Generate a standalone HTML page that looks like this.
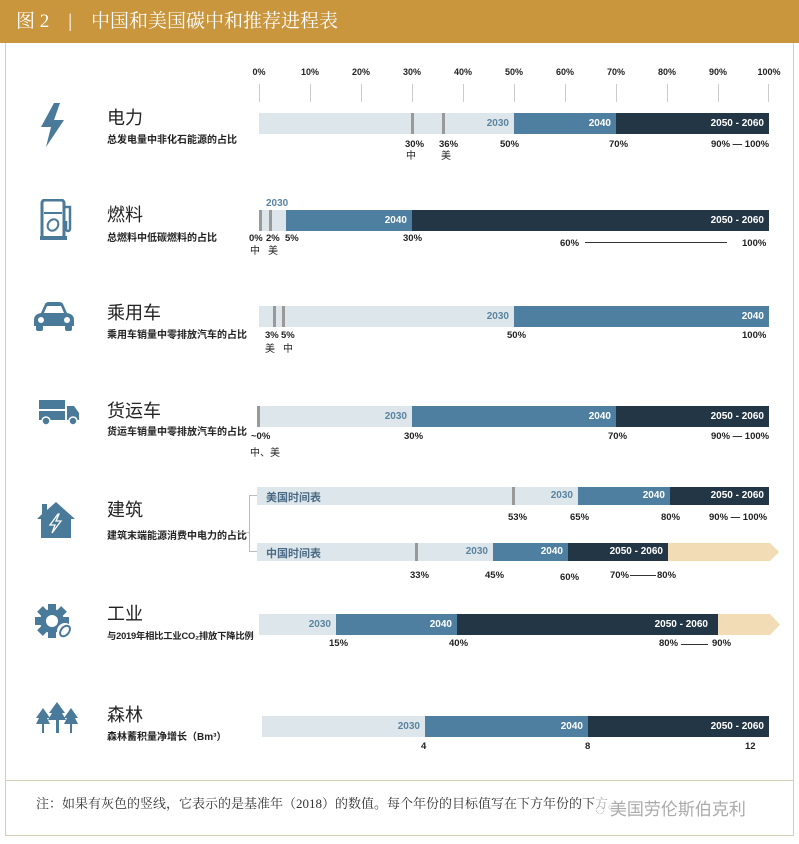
<!DOCTYPE html>
<html><head><meta charset="utf-8"><style>
body{margin:0;width:799px;height:844px;background:#fff;position:relative;overflow:hidden;font-family:"Liberation Sans","Noto Sans CJK SC",sans-serif;}
div{position:absolute;box-sizing:border-box;}
.hdr{left:0;top:0;width:799px;height:43px;background:#c9963e;color:#fff;font-size:19px;line-height:43px;padding-left:16px;font-family:"Liberation Serif","Noto Serif CJK SC",serif;}
.frame{left:5px;top:43px;width:789px;height:793px;border:1px solid #d6cdb4;border-top:none;}
.fline{left:5px;top:780px;width:789px;height:1px;background:#d6cdb4;}
.ax{top:67px;font-size:9px;font-weight:bold;color:#222;width:40px;margin-left:-20px;text-align:center;}
.tk{top:84px;width:1px;height:18px;background:#ccc;}
.t{left:107px;font-size:18px;color:#222;}
.s{left:107px;font-size:10px;font-weight:bold;color:#222;}
.b{height:21px;}
.l{background:#dde6ea;}.m{background:#4f7fa0;}.d{background:#233645;}.tan{background:#f2dcb6;}
.g{width:3px;background:#999;}
.bl{font-size:10px;font-weight:bold;color:#fff;line-height:21px;text-align:right;padding-right:5px;}
.bl.lt{color:#5a84a0;}
.p{font-size:9.5px;font-weight:bold;color:#222;white-space:nowrap;}
.c{font-size:10px;color:#222;}
.dash{height:1px;background:#333;}
</style></head><body>
<div class="hdr">图 2&nbsp;&nbsp;&nbsp;&nbsp;|&nbsp;&nbsp;&nbsp;&nbsp;中国和美国碳中和推荐进程表</div>
<div class="frame"></div>
<div class="fline"></div>

<div class="ax" style="left:259px">0%</div><div class="ax" style="left:310px">10%</div><div class="ax" style="left:361px">20%</div><div class="ax" style="left:412px">30%</div><div class="ax" style="left:463px">40%</div><div class="ax" style="left:514px">50%</div><div class="ax" style="left:565px">60%</div><div class="ax" style="left:616px">70%</div><div class="ax" style="left:667px">80%</div><div class="ax" style="left:718px">90%</div><div class="ax" style="left:769px">100%</div>
<div class="tk" style="left:259px"></div><div class="tk" style="left:310px"></div><div class="tk" style="left:361px"></div><div class="tk" style="left:412px"></div><div class="tk" style="left:463px"></div><div class="tk" style="left:514px"></div><div class="tk" style="left:565px"></div><div class="tk" style="left:616px"></div><div class="tk" style="left:667px"></div><div class="tk" style="left:718px"></div><div class="tk" style="left:768px"></div>

<svg style="position:absolute;left:38px;top:103px" width="30" height="44" viewBox="0 0 30 44"><polygon points="16,0 3,24 13,24 8,44 26,17 16,17 22,0" fill="#4a7a99"/></svg>
<svg style="position:absolute;left:40px;top:199px" width="34" height="42" viewBox="0 0 34 42"><rect x="2" y="1" width="22" height="38" rx="3" fill="none" stroke="#4a7a99" stroke-width="3"/><rect x="0" y="37" width="27" height="4" fill="#4a7a99"/><line x1="4" y1="14" x2="22" y2="14" stroke="#4a7a99" stroke-width="2"/><path d="M24 8 h6 v22 a2 2 0 0 1 -4 0 v-8" fill="none" stroke="#4a7a99" stroke-width="2.5"/><ellipse cx="13" cy="26" rx="5" ry="6" fill="none" stroke="#4a7a99" stroke-width="2" transform="rotate(35 13 26)"/></svg>
<svg style="position:absolute;left:33px;top:301px" width="42" height="30" viewBox="0 0 42 30"><path d="M8 12 L12 3 Q13 1 16 1 H26 Q29 1 30 3 L34 12 Q41 13 41 19 V25 H1 V19 Q1 13 8 12Z" fill="#4a7a99"/><path d="M11 12 L14 5 H28 L31 12Z" fill="#fff"/><circle cx="8" cy="19" r="3" fill="#fff"/><circle cx="34" cy="19" r="3" fill="#fff"/><rect x="3" y="24" width="7" height="6" rx="2" fill="#4a7a99"/><rect x="32" y="24" width="7" height="6" rx="2" fill="#4a7a99"/></svg>
<svg style="position:absolute;left:39px;top:400px" width="42" height="26" viewBox="0 0 42 26"><rect x="0" y="0" width="26" height="9" fill="#4a7a99"/><rect x="0" y="11" width="26" height="9" fill="#4a7a99"/><path d="M28 6 H35 L40 13 V20 H28Z" fill="#4a7a99"/><circle cx="7" cy="21" r="4" fill="#4a7a99" stroke="#fff" stroke-width="1.5"/><circle cx="34" cy="21" r="4" fill="#4a7a99" stroke="#fff" stroke-width="1.5"/></svg>
<svg style="position:absolute;left:37px;top:502px" width="38" height="36" viewBox="0 0 38 36"><path d="M19 0 L38 17 H34 V36 H4 V17 H0 L5 12 V2 H10 V8Z" fill="#4a7a99"/><polygon points="21,12 13,23 18,23 15,31 24,19 19,19 22,12" fill="none" stroke="#fff" stroke-width="1.3"/></svg>
<svg style="position:absolute;left:35px;top:604px" width="40" height="36" viewBox="0 0 40 36"><g fill="#4a7a99"><circle cx="17" cy="17" r="12"/><rect x="13" y="0" width="8" height="34"/><rect x="0" y="13" width="34" height="8"/><rect x="13" y="0" width="8" height="34" transform="rotate(45 17 17)"/><rect x="13" y="0" width="8" height="34" transform="rotate(-45 17 17)"/></g><circle cx="17" cy="17" r="6" fill="#fff"/><circle cx="30" cy="27" r="8" fill="#fff"/><ellipse cx="30" cy="27" rx="4" ry="6" fill="none" stroke="#4a7a99" stroke-width="2" transform="rotate(40 30 27)"/></svg>
<svg style="position:absolute;left:36px;top:702px" width="42" height="32" viewBox="0 0 42 32"><g fill="#4a7a99"><polygon points="7,6 0,16 3,16 0,22 14,22 11,16 14,16"/><rect x="6" y="21" width="2" height="10"/><polygon points="21,0 13,11 16,11 12,18 30,18 26,11 29,11"/><rect x="20" y="17" width="3" height="14"/><polygon points="35,6 28,16 31,16 28,22 42,22 39,16 42,16"/><rect x="34" y="21" width="2" height="10"/></g></svg>

<div class="t" style="top:104px">电力</div><div class="s" style="top:131px">总发电量中非化石能源的占比</div>
<div class="t" style="top:201px">燃料</div><div class="s" style="top:229px">总燃料中低碳燃料的占比</div>
<div class="t" style="top:299px">乘用车</div><div class="s" style="top:326px">乘用车销量中零排放汽车的占比</div>
<div class="t" style="top:397px">货运车</div><div class="s" style="top:423px">货运车销量中零排放汽车的占比</div>
<div class="t" style="top:496px">建筑</div><div class="s" style="top:527px">建筑末端能源消费中电力的占比</div>
<div class="t" style="top:600px">工业</div><div class="s" style="top:628px;font-size:9.3px;letter-spacing:-0.2px">与2019年相比工业CO₂排放下降比例</div>
<div class="t" style="top:701px">森林</div><div class="s" style="top:728px">森林蓄积量净增长（Bm³）</div>

<div class="b l" style="left:259px;top:113px;width:255px"></div>
<div class="b m" style="left:514px;top:113px;width:102px"></div>
<div class="b d" style="left:616px;top:113px;width:153px"></div>
<div class="g" style="left:411px;top:113px;height:21px"></div><div class="g" style="left:442px;top:113px;height:21px"></div>
<div class="bl lt" style="left:459px;top:113px;width:55px">2030</div>
<div class="bl" style="left:561px;top:113px;width:55px">2040</div>
<div class="bl" style="left:680px;top:113px;width:89px">2050 - 2060</div>
<div class="p" style="left:405px;top:139px">30%</div><div class="p" style="left:439px;top:139px">36%</div>
<div class="c" style="left:406px;top:147px">中</div><div class="c" style="left:441px;top:147px">美</div>
<div class="p" style="left:500px;top:139px">50%</div><div class="p" style="left:609px;top:139px">70%</div>
<div class="p" style="left:711px;top:139px">90% — 100%</div>

<div class="b l" style="left:259px;top:210px;width:27px"></div>
<div class="b m" style="left:286px;top:210px;width:126px"></div>
<div class="b d" style="left:412px;top:210px;width:357px"></div>
<div class="g" style="left:259px;top:210px;height:21px"></div><div class="g" style="left:269px;top:210px;height:21px"></div>
<div class="p" style="left:266px;top:198px;color:#5a84a0;font-size:10px">2030</div>
<div class="bl" style="left:357px;top:210px;width:55px">2040</div>
<div class="bl" style="left:680px;top:210px;width:89px">2050 - 2060</div>
<div class="p" style="left:249px;top:233px">0%</div><div class="p" style="left:266px;top:233px">2%</div><div class="p" style="left:285px;top:233px">5%</div><div class="p" style="left:403px;top:233px">30%</div>
<div class="c" style="left:250px;top:242px">中</div><div class="c" style="left:268px;top:242px">美</div>
<div class="p" style="left:560px;top:238px">60%</div><div class="dash" style="left:585px;top:242px;width:142px"></div><div class="p" style="left:742px;top:238px">100%</div>

<div class="b l" style="left:259px;top:306px;width:255px"></div>
<div class="b m" style="left:514px;top:306px;width:255px"></div>
<div class="g" style="left:273px;top:306px;height:21px"></div><div class="g" style="left:282px;top:306px;height:21px"></div>
<div class="bl lt" style="left:459px;top:306px;width:55px">2030</div>
<div class="bl" style="left:714px;top:306px;width:55px">2040</div>
<div class="p" style="left:265px;top:330px">3%</div><div class="p" style="left:281px;top:330px">5%</div>
<div class="c" style="left:265px;top:340px">美</div><div class="c" style="left:283px;top:340px">中</div>
<div class="p" style="left:507px;top:330px">50%</div><div class="p" style="left:742px;top:330px">100%</div>

<div class="b l" style="left:259px;top:406px;width:153px"></div>
<div class="b m" style="left:412px;top:406px;width:204px"></div>
<div class="b d" style="left:616px;top:406px;width:153px"></div>
<div class="g" style="left:257px;top:406px;height:21px"></div>
<div class="bl lt" style="left:357px;top:406px;width:55px">2030</div>
<div class="bl" style="left:561px;top:406px;width:55px">2040</div>
<div class="bl" style="left:680px;top:406px;width:89px">2050 - 2060</div>
<div class="p" style="left:251px;top:431px">~0%</div><div class="p" style="left:404px;top:431px">30%</div><div class="p" style="left:608px;top:431px">70%</div><div class="p" style="left:711px;top:431px">90% — 100%</div>
<div class="c" style="left:250px;top:444px">中、美</div>

<div style="left:233px;top:532px;width:16px;height:1px;background:#bbb"></div>
<div style="left:249px;top:495px;width:1px;height:57px;background:#bbb"></div>
<div style="left:249px;top:495px;width:8px;height:1px;background:#bbb"></div>
<div style="left:249px;top:551px;width:8px;height:1px;background:#bbb"></div>
<div class="l" style="left:257px;top:487px;width:321px;height:18px"></div>
<div class="m" style="left:578px;top:487px;width:92px;height:18px"></div>
<div class="d" style="left:670px;top:487px;width:99px;height:18px"></div>
<div class="g" style="left:512px;top:487px;height:18px"></div>
<div class="p" style="left:266px;top:489px;font-size:11px;color:#4a6a85">美国时间表</div>
<div class="bl lt" style="left:520px;top:485px;width:58px">2030</div>
<div class="bl" style="left:610px;top:485px;width:60px">2040</div>
<div class="bl" style="left:680px;top:485px;width:89px">2050 - 2060</div>
<div class="p" style="left:508px;top:512px">53%</div><div class="p" style="left:570px;top:512px">65%</div><div class="p" style="left:661px;top:512px">80%</div><div class="p" style="left:709px;top:512px">90% — 100%</div>

<div class="l" style="left:257px;top:543px;width:236px;height:18px"></div>
<div class="m" style="left:493px;top:543px;width:75px;height:18px"></div>
<div class="d" style="left:568px;top:543px;width:100px;height:18px"></div>
<svg style="position:absolute;left:668px;top:543px" width="112" height="18"><polygon points="0,0 102,0 111,9 102,18 0,18" fill="#f2dcb6"/></svg>
<div class="g" style="left:415px;top:543px;height:18px"></div>
<div class="p" style="left:266px;top:545px;font-size:11px;color:#4a6a85">中国时间表</div>
<div class="bl lt" style="left:440px;top:541px;width:53px">2030</div>
<div class="bl" style="left:510px;top:541px;width:58px">2040</div>
<div class="bl" style="left:575px;top:541px;width:93px">2050 - 2060</div>
<div class="p" style="left:410px;top:570px">33%</div><div class="p" style="left:485px;top:570px">45%</div><div class="p" style="left:560px;top:572px">60%</div>
<div class="p" style="left:610px;top:570px">70%</div><div class="dash" style="left:630px;top:575px;width:26px"></div><div class="p" style="left:657px;top:570px">80%</div>

<div class="b l" style="left:259px;top:614px;width:77px"></div>
<div class="b m" style="left:336px;top:614px;width:121px"></div>
<div class="b d" style="left:457px;top:614px;width:261px"></div>
<svg style="position:absolute;left:718px;top:614px" width="63" height="21"><polygon points="0,0 52,0 62,10.5 52,21 0,21" fill="#f2dcb6"/></svg>
<div class="bl lt" style="left:281px;top:614px;width:55px">2030</div>
<div class="bl" style="left:402px;top:614px;width:55px">2040</div>
<div class="bl" style="left:620px;top:614px;width:93px">2050 - 2060</div>
<div class="p" style="left:329px;top:638px">15%</div><div class="p" style="left:449px;top:638px">40%</div>
<div class="p" style="left:659px;top:638px">80%</div><div class="dash" style="left:681px;top:644px;width:27px"></div><div class="p" style="left:712px;top:638px">90%</div>

<div class="b l" style="left:262px;top:716px;width:163px"></div>
<div class="b m" style="left:425px;top:716px;width:163px"></div>
<div class="b d" style="left:588px;top:716px;width:181px"></div>
<div class="bl lt" style="left:370px;top:716px;width:55px">2030</div>
<div class="bl" style="left:533px;top:716px;width:55px">2040</div>
<div class="bl" style="left:680px;top:716px;width:89px">2050 - 2060</div>
<div class="p" style="left:421px;top:741px">4</div><div class="p" style="left:585px;top:741px">8</div><div class="p" style="left:745px;top:741px">12</div>

<div style="left:36px;top:793px;font-size:13px;color:#333;font-family:'Liberation Serif','Noto Serif CJK SC',serif;white-space:nowrap">注：如果有灰色的竖线，它表示的是基准年（2018）的数值。每个年份的目标值写在下方年份的下方。</div>
<div style="left:595px;top:795px;font-size:17px;color:#aaa;white-space:nowrap;background:rgba(255,255,255,0.6)">◌ 美国劳伦斯伯克利</div>
</body></html>
